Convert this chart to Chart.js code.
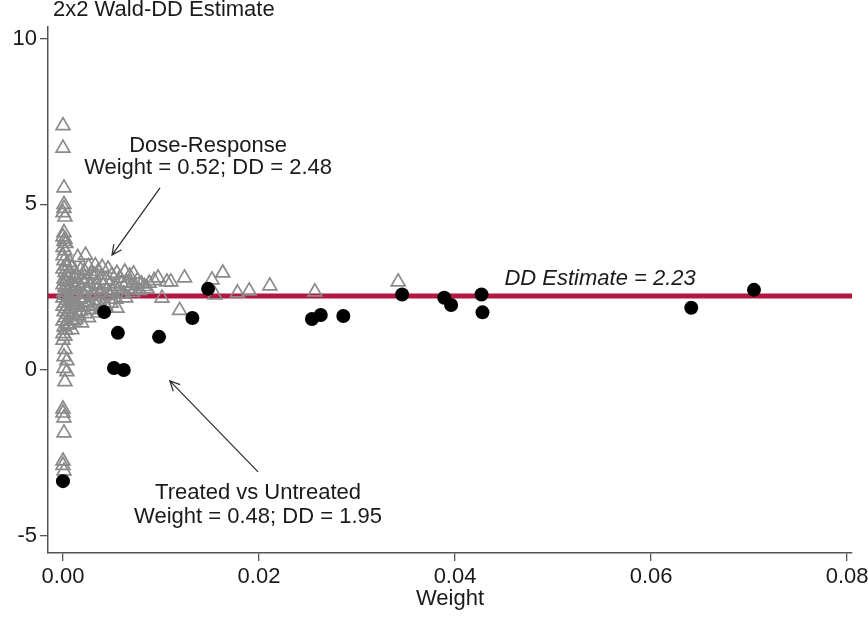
<!DOCTYPE html>
<html>
<head>
<meta charset="utf-8">
<script src="https://cdn.jsdelivr.net/npm/chart.js@4.4.0/dist/chart.umd.min.js"></script>
<style>
  html, body { margin: 0; padding: 0; background: #fff; }
  #wrap { width: 868px; height: 617px; }
</style>
</head>
<body>
<div id="wrap"><canvas id="dd"></canvas></div>
<script>
//-----------Data-----------
const chartTitle = "2x2 Wald-DD Estimate";
const ddEstimate = 2.23;

const xTicks = [0, 0.02, 0.04, 0.06, 0.08];
const yTicks = [-5, 0, 5, 10];
const xMin = -0.00153, xMax = 0.0805;
const yMin = -5.53, yMax = 10.36;

// treated vs untreated comparisons (black dots)
const treatedWeight = [0.0000, 0.0042, 0.0056, 0.0052, 0.0062, 0.0098, 0.0132, 0.0148,
  0.0254, 0.0263, 0.0286, 0.0346, 0.0389, 0.0396, 0.0427, 0.0428, 0.0641, 0.0705];
const treatedDD = [-3.36, 1.75, 1.12, 0.06, 0.00, 1.00, 1.57, 2.45,
  1.54, 1.66, 1.63, 2.28, 2.18, 1.96, 2.28, 1.74, 1.88, 2.42];

// dose-response comparisons (grey triangles)
const doseWeight = [
  0.0000, 0.0000, 0.0001, 0.0001, 0.0001, 0.0000, 0.0002, 0.0001, 0.0000, 0.0002, 0.0001, 0.0003, 0.0000, 0.0002,
  0.0000, 0.0002, 0.0001, 0.0004, 0.0001, 0.0004, 0.0002, 0.0000, 0.0000, 0.0001, 0.0001, 0.0000, 0.0000, 0.0001,
  0.0000, 0.0001, 0.0003, 0.0000, 0.0002, 0.0004, 0.0001, 0.0003, 0.0000, 0.0002, 0.0005, 0.0001, 0.0003, 0.0000,
  0.0004, 0.0002, 0.0000, 0.0003, 0.0001, 0.0005, 0.0002, 0.0000, 0.0004, 0.0001, 0.0003, 0.0000, 0.0002,
  0.0007, 0.0009, 0.0006, 0.0011, 0.0008, 0.0012, 0.0007, 0.0010, 0.0006, 0.0009, 0.0012, 0.0007, 0.0010, 0.0008,
  0.0011, 0.0006, 0.0009,
  0.0015, 0.0018, 0.0014, 0.0020, 0.0016, 0.0013, 0.0019, 0.0015, 0.0017, 0.0020, 0.0014, 0.0018, 0.0016, 0.0013, 0.0019,
  0.0023, 0.0026, 0.0022, 0.0029, 0.0025, 0.0021, 0.0028, 0.0024, 0.0030, 0.0022, 0.0027, 0.0025, 0.0029, 0.0023, 0.0026,
  0.0033, 0.0036, 0.0032, 0.0040, 0.0038, 0.0034, 0.0041, 0.0035, 0.0039, 0.0032, 0.0037, 0.0042, 0.0034, 0.0039, 0.0036,
  0.0046, 0.0050, 0.0044, 0.0055, 0.0058, 0.0048, 0.0053, 0.0060, 0.0045, 0.0051, 0.0057, 0.0047, 0.0054, 0.0059, 0.0049,
  0.0055, 0.0044,
  0.0063, 0.0068, 0.0072, 0.0065, 0.0070, 0.0076, 0.0080, 0.0067, 0.0074, 0.0083, 0.0088, 0.0062, 0.0071, 0.0078, 0.0086,
  0.0064, 0.0093,
  0.0097, 0.0101, 0.0106, 0.0110, 0.0119, 0.0124, 0.0152, 0.0155, 0.0163, 0.0178, 0.0190, 0.0211, 0.0257, 0.0342];
const doseDD = [
  7.38, 6.70, 5.50, 5.00, 4.88, 4.75, 4.62, 4.15, 4.02, 3.95, 3.88, 3.82, 3.70, 3.60,
  0.90, 0.62, 0.40, 0.28, 0.05, -0.05, -0.35, -1.18, -1.30, -1.45, -1.90, -2.75, -2.88, -3.05,
  3.45, 3.30, 3.15, 3.05, 2.95, 2.85, 2.75, 2.68, 2.58, 2.50, 2.42, 2.35, 2.26, 2.18,
  2.10, 2.02, 1.93, 1.85, 1.76, 1.68, 1.58, 1.48, 1.40, 1.30, 1.20, 1.10, 1.02,
  3.25, 3.08, 2.92, 2.80, 2.66, 2.55, 2.44, 2.33, 2.20, 2.08, 1.96, 1.84, 1.72, 1.60,
  1.48, 1.36, 1.22,
  3.40, 3.02, 2.88, 2.76, 2.62, 2.50, 2.40, 2.28, 2.14, 2.02, 1.90, 1.78, 1.64, 1.52, 1.42,
  3.47, 3.12, 2.98, 2.90, 2.74, 2.62, 2.52, 2.40, 2.30, 2.18, 2.06, 1.94, 1.82, 1.70, 1.58,
  3.15, 2.98, 2.86, 3.10, 2.72, 2.60, 2.55, 2.44, 2.34, 2.22, 2.10, 2.02, 1.92, 1.84, 1.72,
  3.05, 2.86, 2.72, 2.92, 2.78, 2.60, 2.52, 2.62, 2.42, 2.36, 2.44, 2.25, 2.14, 2.30, 2.02,
  1.87, 1.90,
  2.96, 2.84, 2.90, 2.64, 2.55, 2.70, 2.60, 2.42, 2.46, 2.52, 2.62, 2.30, 2.34, 2.40, 2.45,
  2.18, 2.70,
  2.78, 2.17, 2.66, 2.66, 1.80, 2.78, 2.72, 2.27, 2.93, 2.33, 2.39, 2.54, 2.36, 2.66];

//-----------Annotations (placed in data units)-----------
const notes = [
  { lines: ["Dose-Response", "Weight = 0.52; DD = 2.48"], x: 0.0148, y: [6.77, 6.10],
    arrow: { from: [0.0099, 5.50], to: [0.0050, 3.47] } },
  { lines: ["Treated vs Untreated", "Weight = 0.48; DD = 1.95"], x: 0.0199, y: [-3.72, -4.44],
    arrow: { from: [0.0199, -3.08], to: [0.0109, -0.33] } },
];
const ddLabel = { text: "DD Estimate = " + ddEstimate.toFixed(2), x: 0.0548, y: 2.75 };

const FONT = "'Liberation Sans', Arial, Helvetica, sans-serif";
const AXIS_COLOR = "#555";
const TEXT_COLOR = "#1a1a1a";
const RED = "#b3163f";
const GREY = "#8a8a8a";

const toPoints = (xs, ys) => xs.map((x, i) => ({ x: x, y: ys[i] }));

// draw title, annotation text and arrows on top
const annotate = {
  id: "annotate",
  afterDatasetsDraw(chart) {
    const { ctx, scales: { x, y }, chartArea } = chart;
    ctx.save();
    ctx.fillStyle = TEXT_COLOR;
    ctx.strokeStyle = "#333";
    ctx.font = "22px " + FONT;
    ctx.textAlign = "left";
    ctx.textBaseline = "alphabetic";
    ctx.fillText(chartTitle, chartArea.left + 5, 16);

    ctx.textAlign = "center";
    ctx.textBaseline = "middle";
    notes.forEach(n => {
      n.lines.forEach((t, i) => ctx.fillText(t, x.getPixelForValue(n.x), y.getPixelForValue(n.y[i])));
      const x0 = x.getPixelForValue(n.arrow.from[0]), y0 = y.getPixelForValue(n.arrow.from[1]);
      const x1 = x.getPixelForValue(n.arrow.to[0]), y1 = y.getPixelForValue(n.arrow.to[1]);
      ctx.lineWidth = 1.3;
      ctx.beginPath();
      ctx.moveTo(x0, y0);
      ctx.lineTo(x1, y1);
      const ang = Math.atan2(y1 - y0, x1 - x0);
      const len = 11, spread = 0.45;
      ctx.moveTo(x1 - len * Math.cos(ang - spread), y1 - len * Math.sin(ang - spread));
      ctx.lineTo(x1, y1);
      ctx.lineTo(x1 - len * Math.cos(ang + spread), y1 - len * Math.sin(ang + spread));
      ctx.stroke();
    });

    ctx.font = "italic 22px " + FONT;
    ctx.fillText(ddLabel.text, x.getPixelForValue(ddLabel.x), y.getPixelForValue(ddLabel.y));
    ctx.restore();
  }
};

const ctx = document.getElementById("dd").getContext("2d");

new Chart(ctx, {
  type: "scatter",
  data: {
    datasets: [
      {
        type: "line",
        data: [{ x: xMin, y: ddEstimate }, { x: xMax, y: ddEstimate }],
        borderColor: RED,
        borderWidth: 5,
        pointRadius: 0,
        order: 3
      },
      {
        data: toPoints(doseWeight, doseDD),
        pointStyle: "triangle",
        pointRadius: 8,
        borderColor: GREY,
        borderWidth: 1.7,
        backgroundColor: "rgba(0,0,0,0)",
        order: 2
      },
      {
        data: toPoints(treatedWeight, treatedDD),
        pointStyle: "circle",
        pointRadius: 7,
        borderWidth: 0,
        backgroundColor: "#000",
        order: 1
      }
    ]
  },
  options: {
    responsive: true,
    maintainAspectRatio: false,
    animation: false,
    devicePixelRatio: 1,
    layout: { padding: { top: 27, right: 16, left: 0, bottom: 0 } },
    scales: {
      x: {
        type: "linear",
        min: xMin,
        max: xMax,
        afterBuildTicks: s => { s.ticks = xTicks.map(v => ({ value: v })); },
        afterFit: s => { s.height = 64; s.paddingLeft = 0; s.paddingRight = 0; },
        ticks: {
          callback: v => v.toFixed(2),
          font: { size: 22, family: FONT },
          color: TEXT_COLOR,
          padding: 3,
          maxRotation: 0,
          autoSkip: false
        },
        grid: { display: true, drawOnChartArea: false, drawTicks: true, tickLength: 8, color: AXIS_COLOR, lineWidth: 1.3 },
        border: { display: true, color: AXIS_COLOR, width: 1.5 },
        title: {
          display: true,
          text: "Weight",
          font: { size: 22, family: FONT },
          color: TEXT_COLOR,
          padding: { top: 0, bottom: 5 }
        }
      },
      y: {
        type: "linear",
        min: yMin,
        max: yMax,
        afterBuildTicks: s => { s.ticks = yTicks.map(v => ({ value: v })); },
        afterFit: s => { s.width = 48; s.paddingTop = 0; s.paddingBottom = 0; },
        ticks: {
          callback: v => String(v),
          font: { size: 22, family: FONT },
          color: TEXT_COLOR,
          padding: 3
        },
        grid: { display: true, drawOnChartArea: false, drawTicks: true, tickLength: 8, color: AXIS_COLOR, lineWidth: 1.3 },
        border: { display: true, color: AXIS_COLOR, width: 1.5 }
      }
    },
    plugins: {
      legend: { display: false },
      tooltip: { enabled: false },
      title: { display: false }
    }
  },
  plugins: [annotate]
});
</script>
</body>
</html>
